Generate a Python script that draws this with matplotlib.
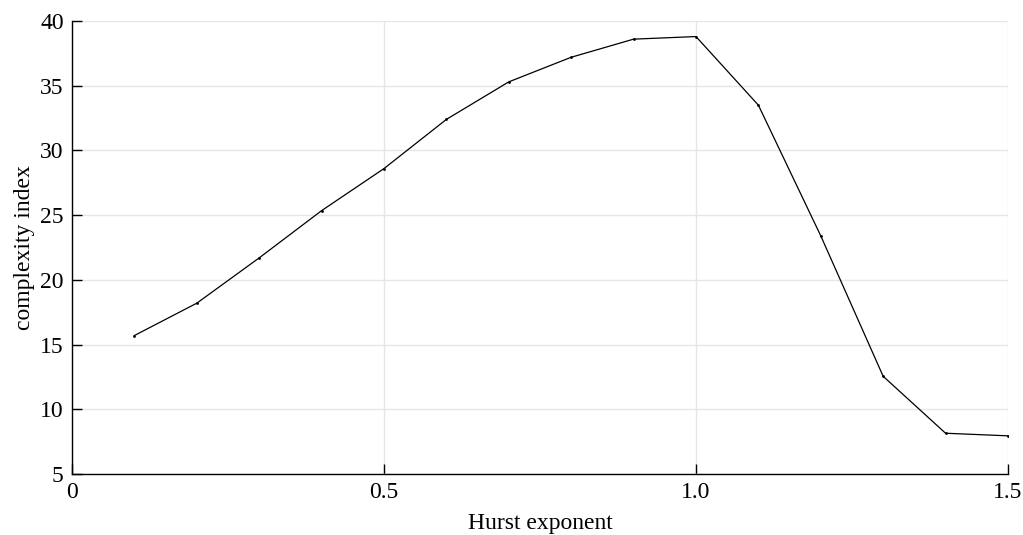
import matplotlib
matplotlib.use("Agg")
import matplotlib.pyplot as plt

# complexity index vs Hurst exponent
hurst = [0.1, 0.2, 0.3, 0.4, 0.5, 0.6, 0.7, 0.8, 0.9, 1.0, 1.1, 1.2, 1.3, 1.4, 1.5]
complexity = [15.7, 18.2, 21.7, 25.35, 28.6, 32.4, 35.3, 37.2, 38.6, 38.8, 33.5, 23.4, 12.55, 8.15, 7.95]

plt.rcParams['font.family'] = ['Liberation Serif', 'DejaVu Serif']

fig = plt.figure(figsize=(10.23, 5.35), dpi=100)
ax = fig.add_axes([0.0704, 0.114, 0.9149, 0.8467])

ax.plot(hurst, complexity, color='black', lw=0.9, marker='.', markersize=2)

ax.set_xlim(0, 1.5)
ax.set_ylim(5, 40)
ax.set_xticks([0, 0.5, 1.0, 1.5])
ax.set_xticklabels(['0', '0.5', '1.0', '1.5'])
ax.set_yticks(range(5, 41, 5))

ax.grid(True, color='#e6e6e6', lw=1)
ax.set_axisbelow(True)
for s in ['top', 'right']:
    ax.spines[s].set_visible(False)
ax.spines['left'].set_linewidth(1)
ax.spines['bottom'].set_linewidth(1)

ax.tick_params(direction='in', length=7, width=1, labelsize=17, pad=6)

ax.set_xlabel('Hurst exponent', fontsize=17, labelpad=7)
ax.set_ylabel('complexity index', fontsize=17, labelpad=4)

fig.savefig('out.png', dpi=100)
